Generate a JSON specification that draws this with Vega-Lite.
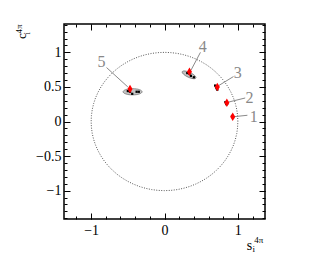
{
  "$schema": "https://vega.github.io/schema/vega-lite/v6.json",
  "width": 201,
  "height": 195,
  "autosize": {"type": "none"},
  "padding": {"left": 64, "top": 24, "right": 59, "bottom": 36},
  "background": "white",
  "config": {
    "view": {"stroke": "black", "strokeWidth": 1.5},
    "axis": {"domain": false, "grid": false, "tickColor": "black", "tickWidth": 1, "labelFont": "Liberation Serif", "labelFontSize": 14, "labelColor": "black", "title": null, "format": "~g"},
    "text": {"font": "Liberation Serif"}
  },
  "datasets": {
    "circle": [
      {"a":0,"s":1,"c":0},{"a":5,"s":0.996,"c":0.087},{"a":10,"s":0.985,"c":0.174},{"a":15,"s":0.966,"c":0.259},{"a":20,"s":0.94,"c":0.342},{"a":25,"s":0.906,"c":0.423},{"a":30,"s":0.866,"c":0.5},{"a":35,"s":0.819,"c":0.574},{"a":40,"s":0.766,"c":0.643},{"a":45,"s":0.707,"c":0.707},{"a":50,"s":0.643,"c":0.766},{"a":55,"s":0.574,"c":0.819},{"a":60,"s":0.5,"c":0.866},{"a":65,"s":0.423,"c":0.906},{"a":70,"s":0.342,"c":0.94},{"a":75,"s":0.259,"c":0.966},{"a":80,"s":0.174,"c":0.985},{"a":85,"s":0.087,"c":0.996},{"a":90,"s":0,"c":1},
      {"a":95,"s":-0.087,"c":0.996},{"a":100,"s":-0.174,"c":0.985},{"a":105,"s":-0.259,"c":0.966},{"a":110,"s":-0.342,"c":0.94},{"a":115,"s":-0.423,"c":0.906},{"a":120,"s":-0.5,"c":0.866},{"a":125,"s":-0.574,"c":0.819},{"a":130,"s":-0.643,"c":0.766},{"a":135,"s":-0.707,"c":0.707},{"a":140,"s":-0.766,"c":0.643},{"a":145,"s":-0.819,"c":0.574},{"a":150,"s":-0.866,"c":0.5},{"a":155,"s":-0.906,"c":0.423},{"a":160,"s":-0.94,"c":0.342},{"a":165,"s":-0.966,"c":0.259},{"a":170,"s":-0.985,"c":0.174},{"a":175,"s":-0.996,"c":0.087},{"a":180,"s":-1,"c":0},
      {"a":185,"s":-0.996,"c":-0.087},{"a":190,"s":-0.985,"c":-0.174},{"a":195,"s":-0.966,"c":-0.259},{"a":200,"s":-0.94,"c":-0.342},{"a":205,"s":-0.906,"c":-0.423},{"a":210,"s":-0.866,"c":-0.5},{"a":215,"s":-0.819,"c":-0.574},{"a":220,"s":-0.766,"c":-0.643},{"a":225,"s":-0.707,"c":-0.707},{"a":230,"s":-0.643,"c":-0.766},{"a":235,"s":-0.574,"c":-0.819},{"a":240,"s":-0.5,"c":-0.866},{"a":245,"s":-0.423,"c":-0.906},{"a":250,"s":-0.342,"c":-0.94},{"a":255,"s":-0.259,"c":-0.966},{"a":260,"s":-0.174,"c":-0.985},{"a":265,"s":-0.087,"c":-0.996},{"a":270,"s":0,"c":-1},
      {"a":275,"s":0.087,"c":-0.996},{"a":280,"s":0.174,"c":-0.985},{"a":285,"s":0.259,"c":-0.966},{"a":290,"s":0.342,"c":-0.94},{"a":295,"s":0.423,"c":-0.906},{"a":300,"s":0.5,"c":-0.866},{"a":305,"s":0.574,"c":-0.819},{"a":310,"s":0.643,"c":-0.766},{"a":315,"s":0.707,"c":-0.707},{"a":320,"s":0.766,"c":-0.643},{"a":325,"s":0.819,"c":-0.574},{"a":330,"s":0.866,"c":-0.5},{"a":335,"s":0.906,"c":-0.423},{"a":340,"s":0.94,"c":-0.342},{"a":345,"s":0.966,"c":-0.259},{"a":350,"s":0.985,"c":-0.174},{"a":355,"s":0.996,"c":-0.087},{"a":360,"s":1,"c":0}
    ],
    "leaders": [
      {"id":1,"s":0.95,"c":0.07,"s2":1.13,"c2":0.09},
      {"id":2,"s":0.87,"c":0.28,"s2":1.1,"c2":0.34},
      {"id":3,"s":0.74,"c":0.52,"s2":0.94,"c2":0.65},
      {"id":4,"s":0.36,"c":0.74,"s2":0.49,"c2":1.0},
      {"id":5,"s":-0.5,"c":0.5,"s2":-0.79,"c2":0.78}
    ],
    "ellipses": [
      {"id":4,"s":0.335,"c":0.675},
      {"id":5,"s":-0.435,"c":0.43}
    ],
    "toys": [
      {"id":1,"s":0.92,"c":0.08},{"id":1,"s":0.935,"c":0.06},{"id":1,"s":0.925,"c":0.065},
      {"id":2,"s":0.84,"c":0.26},{"id":2,"s":0.83,"c":0.28},{"id":2,"s":0.845,"c":0.25},{"id":2,"s":0.855,"c":0.26},
      {"id":3,"s":0.70,"c":0.51},{"id":3,"s":0.71,"c":0.48},{"id":3,"s":0.72,"c":0.46},{"id":3,"s":0.69,"c":0.52},{"id":3,"s":0.705,"c":0.495},
      {"id":4,"s":0.34,"c":0.69},{"id":4,"s":0.36,"c":0.66},{"id":4,"s":0.40,"c":0.64},{"id":4,"s":0.31,"c":0.70},
      {"id":5,"s":-0.47,"c":0.43},{"id":5,"s":-0.44,"c":0.40},{"id":5,"s":-0.38,"c":0.43},{"id":5,"s":-0.35,"c":0.43},{"id":5,"s":-0.50,"c":0.44}
    ],
    "measured": [
      {"id":1,"s":0.93,"c":0.07},
      {"id":2,"s":0.85,"c":0.27},
      {"id":3,"s":0.72,"c":0.50},
      {"id":4,"s":0.34,"c":0.72},
      {"id":5,"s":-0.47,"c":0.47}
    ],
    "labels": [
      {"id":"1","s":1.215,"c":0.068},
      {"id":"2","s":1.16,"c":0.34},
      {"id":"3","s":1.0,"c":0.70},
      {"id":"4","s":0.52,"c":1.08},
      {"id":"5","s":-0.86,"c":0.86}
    ],
    "xtitle": [
      {"t":"s","s":1.12,"c":-1.86,"k":"main"},
      {"t":"i","s":1.2,"c":-1.89,"k":"sub"},
      {"t":"4π","s":1.225,"c":-1.75,"k":"sup"}
    ],
    "ytitle": [
      {"t":"c","s":-1.884,"c":1.193,"k":"main"},
      {"t":"i","s":-1.833,"c":1.258,"k":"sub"},
      {"t":"4π","s":-1.936,"c":1.273,"k":"sup"}
    ]
  },
  "resolve": {"axis": {"x": "independent", "y": "independent"}},
  "layer": [
    {
      "data": {"name": "circle"},
      "mark": {"type": "line", "stroke": "#555", "strokeWidth": 1, "strokeDash": [1, 1.5]},
      "encoding": {
        "x": {"field": "s", "type": "quantitative", "scale": {"domain": [-1.37, 1.37], "nice": false, "zero": false},
              "axis": {"orient": "bottom", "values": [-1, 0, 1], "tickSize": -6, "labelPadding": 10}},
        "y": {"field": "c", "type": "quantitative", "scale": {"domain": [-1.41, 1.41], "nice": false, "zero": false},
              "axis": {"orient": "left", "values": [-1, -0.5, 0, 0.5, 1], "tickSize": -6, "labelPadding": 9}},
        "order": {"field": "a", "type": "quantitative"}
      }
    },
    {
      "data": {"name": "leaders"},
      "mark": {"type": "rule", "stroke": "#8a8a8a", "strokeWidth": 1},
      "encoding": {
        "x": {"field": "s", "type": "quantitative",
              "axis": {"orient": "bottom", "values": [-1.2, -1, -0.8, -0.6, -0.4, -0.2, 0, 0.2, 0.4, 0.6, 0.8, 1, 1.2], "tickSize": -3, "labels": false}},
        "y": {"field": "c", "type": "quantitative",
              "axis": {"orient": "left", "values": [-1.4, -1.3, -1.2, -1.1, -1, -0.9, -0.8, -0.7, -0.6, -0.5, -0.4, -0.3, -0.2, -0.1, 0, 0.1, 0.2, 0.3, 0.4, 0.5, 0.6, 0.7, 0.8, 0.9, 1, 1.1, 1.2, 1.3, 1.4], "tickSize": -3, "labels": false}},
        "x2": {"field": "s2"},
        "y2": {"field": "c2"}
      }
    },
    {
      "data": {"name": "ellipses"},
      "mark": {"type": "point", "shape": "M-1,0A1,0.33,0,1,1,1,0A1,0.33,0,1,1,-1,0Z", "filled": true, "fill": "#c4c4c4", "stroke": "#555", "strokeWidth": 0.6, "opacity": 1},
      "encoding": {
        "x": {"field": "s", "type": "quantitative",
              "axis": {"orient": "top", "values": [-1, 0, 1], "tickSize": -6, "labels": false}},
        "y": {"field": "c", "type": "quantitative",
              "axis": {"orient": "right", "values": [-1, -0.5, 0, 0.5, 1], "tickSize": -6, "labels": false}},
        "size": {"condition": {"test": "datum.id == 5", "value": 361}, "value": 225},
        "angle": {"condition": {"test": "datum.id == 5", "value": 0}, "value": 25}
      }
    },
    {
      "data": {"name": "toys"},
      "mark": {"type": "point", "shape": "square", "filled": true, "color": "black", "size": 5, "opacity": 1},
      "encoding": {
        "x": {"field": "s", "type": "quantitative",
              "axis": {"orient": "top", "values": [-1.2, -1, -0.8, -0.6, -0.4, -0.2, 0, 0.2, 0.4, 0.6, 0.8, 1, 1.2], "tickSize": -3, "labels": false}},
        "y": {"field": "c", "type": "quantitative",
              "axis": {"orient": "right", "values": [-1.4, -1.3, -1.2, -1.1, -1, -0.9, -0.8, -0.7, -0.6, -0.5, -0.4, -0.3, -0.2, -0.1, 0, 0.1, 0.2, 0.3, 0.4, 0.5, 0.6, 0.7, 0.8, 0.9, 1, 1.1, 1.2, 1.3, 1.4], "tickSize": -3, "labels": false}}
      }
    },
    {
      "data": {"name": "measured"},
      "mark": {"type": "point", "shape": "M0,-1L0.6,0L0,1L-0.6,0Z", "filled": true, "color": "#ff0000", "size": 72, "opacity": 1},
      "encoding": {
        "x": {"field": "s", "type": "quantitative", "axis": null},
        "y": {"field": "c", "type": "quantitative", "axis": null}
      }
    },
    {
      "data": {"name": "labels"},
      "mark": {"type": "text", "fontSize": 16, "color": "#888", "align": "center", "baseline": "middle"},
      "encoding": {
        "x": {"field": "s", "type": "quantitative", "axis": null},
        "y": {"field": "c", "type": "quantitative", "axis": null},
        "text": {"field": "id"}
      }
    },
    {
      "data": {"name": "xtitle"},
      "mark": {"type": "text", "align": "left", "baseline": "alphabetic", "color": "black"},
      "encoding": {
        "x": {"field": "s", "type": "quantitative", "axis": null},
        "y": {"field": "c", "type": "quantitative", "axis": null},
        "text": {"field": "t"},
        "size": {"condition": {"test": "datum.k == 'main'", "value": 14}, "value": 9}
      }
    },
    {
      "data": {"name": "ytitle"},
      "mark": {"type": "text", "align": "left", "baseline": "alphabetic", "color": "black", "angle": 270},
      "encoding": {
        "x": {"field": "s", "type": "quantitative", "axis": null},
        "y": {"field": "c", "type": "quantitative", "axis": null},
        "text": {"field": "t"},
        "size": {"condition": {"test": "datum.k == 'main'", "value": 13}, "value": 9}
      }
    }
  ]
}
